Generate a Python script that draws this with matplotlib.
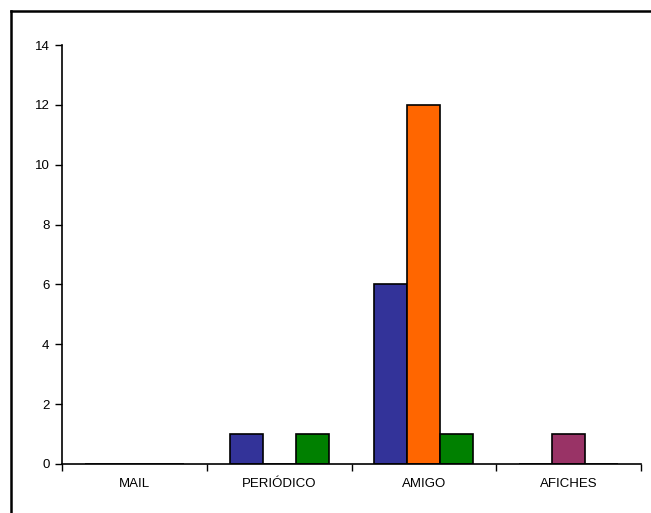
import matplotlib.pyplot as plt
import numpy as np
from matplotlib.lines import Line2D

categories = ['MAIL', 'PERIÓDICO', 'AMIGO', 'AFICHES']
serie1 = [0, 1, 6, 0]
serie2 = [0, 0, 12, 1]
serie3 = [0, 1, 1, 0]
colors2 = ['#FF6600', '#FF6600', '#FF6600', '#993366']

plt.rcParams['font.family'] = ['Liberation Sans', 'DejaVu Sans']

fig = plt.figure(figsize=(6.51, 5.13), dpi=100)
ax = fig.add_axes([62 / 651, 1 - 464 / 513, 579 / 651, 419 / 513])

x = np.arange(len(categories))
w = 0.2276
kw = dict(edgecolor='black', linewidth=1.2)
ax.bar(x - w, serie1, w, color='#333399', **kw)
ax.bar(x, serie2, w, color=colors2, **kw)
ax.bar(x + w, serie3, w, color='#008000', **kw)

ax.set_xlim(-0.5, len(categories) - 0.5)
ax.set_ylim(0, 14)
ax.set_yticks(range(0, 15, 2))
ax.set_xticks(x)
ax.set_xticklabels(categories)
ax.set_xticks(np.arange(-0.5, len(categories)), minor=True)
ax.tick_params(axis='x', which='major', length=0, pad=10, labelsize=9.5)
ax.tick_params(axis='x', which='minor', length=5, width=1, direction='out')
ax.tick_params(axis='y', length=5, width=1, direction='out', labelsize=9.5, pad=4)

for s in ['top', 'right']:
    ax.spines[s].set_visible(False)
for s in ['left', 'bottom']:
    ax.spines[s].set_linewidth(1.2)

# outer chart frame (only top and left edges show)
fig.add_artist(Line2D([11 / 651, 11 / 651], [0, 1 - 11 / 513], color='black', lw=1.8, transform=fig.transFigure))
fig.add_artist(Line2D([11 / 651, 1], [1 - 11 / 513, 1 - 11 / 513], color='black', lw=1.8, transform=fig.transFigure))

fig.savefig('out.png', dpi=100)
